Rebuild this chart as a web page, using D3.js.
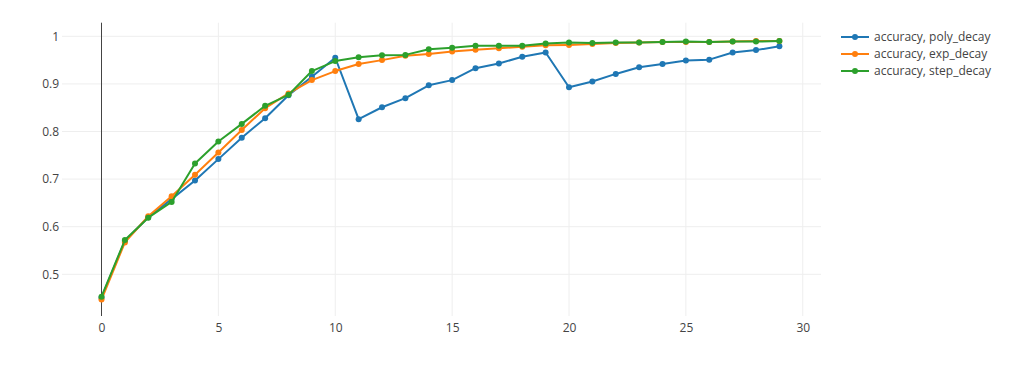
<!DOCTYPE html>
<html><head><meta charset="utf-8">
<script src="https://cdn.jsdelivr.net/npm/d3@7"></script>
<style>body{margin:0;background:#fff;}svg{display:block;font-family:"Open Sans",Verdana,Arial,sans-serif;}</style>
</head><body><svg id="c" width="1024" height="381"></svg>
<script>
const epochs = d3.range(30);
const seriesNames = ["accuracy, poly_decay", "accuracy, exp_decay", "accuracy, step_decay"];
const polyDecay = [0.451,0.570,0.620,0.658,0.697,0.742,0.787,0.828,0.876,0.915,0.955,0.826,0.851,0.870,0.897,0.908,0.933,0.943,0.957,0.966,0.893,0.905,0.921,0.935,0.942,0.949,0.951,0.966,0.971,0.979];
const expDecay = [0.447,0.567,0.622,0.664,0.709,0.756,0.803,0.849,0.880,0.908,0.927,0.942,0.950,0.959,0.963,0.968,0.972,0.975,0.978,0.981,0.982,0.984,0.986,0.987,0.988,0.988,0.988,0.989,0.990,0.990];
const stepDecay = [0.453,0.572,0.619,0.652,0.733,0.779,0.816,0.854,0.877,0.927,0.948,0.956,0.960,0.961,0.973,0.976,0.980,0.980,0.980,0.985,0.987,0.986,0.987,0.987,0.988,0.989,0.988,0.989,0.989,0.990];
const colors = ["#1f77b4", "#ff7f0e", "#2ca02c"];
const xTicks = [0,5,10,15,20,25,30];
const yTicks = [0.5,0.6,0.7,0.8,0.9,1];

const svg = d3.select("#c");
const L = 62, R = 821, T = 22.7, B = 316;
const x = d3.scaleLinear().domain([-1.69, 30.78]).range([L, R]);
const y = d3.scaleLinear().domain([0.4124, 1.0286]).range([B, T]);

const g = svg.append("g");
// grid
g.selectAll(".vg").data(xTicks.filter(t => t !== 0)).enter().append("line")
  .attr("x1", d => x(d)).attr("x2", d => x(d)).attr("y1", T).attr("y2", B)
  .attr("stroke", "#eee").attr("stroke-width", 1);
g.selectAll(".hg").data(yTicks).enter().append("line")
  .attr("x1", L).attr("x2", R).attr("y1", d => y(d)).attr("y2", d => y(d))
  .attr("stroke", "#eee").attr("stroke-width", 1);
// zero line
g.append("line").attr("x1", x(0)).attr("x2", x(0)).attr("y1", T).attr("y2", B)
  .attr("stroke", "#444").attr("stroke-width", 1);

// axes labels
const xAxis = d3.axisBottom(x).tickValues(xTicks).tickSize(0).tickPadding(0).tickFormat(d3.format("d"));
const xa = svg.append("g").attr("transform", `translate(0,${B})`).call(xAxis);
xa.select(".domain").remove();
xa.selectAll("text").attr("dy", null).attr("y", 15.5).attr("fill", "#444").style("font-size", "12px")
  .style("font-family", '"Open Sans",Verdana,Arial,sans-serif');

const yAxis = d3.axisLeft(y).tickValues(yTicks).tickSize(0).tickPadding(0).tickFormat(d => d === 1 ? "1" : d3.format(".1f")(d));
const ya = svg.append("g").attr("transform", `translate(${L - 3},0)`).call(yAxis);
ya.select(".domain").remove();
ya.selectAll("text").attr("fill", "#444").style("font-size", "12px")
  .style("font-family", '"Open Sans",Verdana,Arial,sans-serif');

// series
const all = [polyDecay, expDecay, stepDecay];
const line = d3.line().x((d, i) => x(epochs[i])).y(d => y(d));
all.forEach((s, k) => {
  const sg = svg.append("g");
  sg.append("path").datum(s).attr("d", line).attr("fill", "none")
    .attr("stroke", colors[k]).attr("stroke-width", 2).attr("stroke-linejoin", "round");
  sg.selectAll("circle").data(s).enter().append("circle")
    .attr("cx", (d, i) => x(epochs[i])).attr("cy", d => y(d)).attr("r", 3).attr("fill", colors[k]);
});

// legend
const lg = svg.append("g").attr("transform", "translate(841,37)");
seriesNames.forEach((n, k) => {
  const row = lg.append("g").attr("transform", `translate(0,${k * 17})`);
  row.append("line").attr("x1", 0).attr("x2", 28).attr("y1", 0).attr("y2", 0)
    .attr("stroke", colors[k]).attr("stroke-width", 2);
  row.append("circle").attr("cx", 14).attr("cy", 0).attr("r", 3).attr("fill", colors[k]);
  row.append("text").attr("x", 33).attr("y", 0).attr("dy", "0.35em").attr("fill", "#444")
    .style("font-size", "12px").text(n);
});
</script></body></html>
